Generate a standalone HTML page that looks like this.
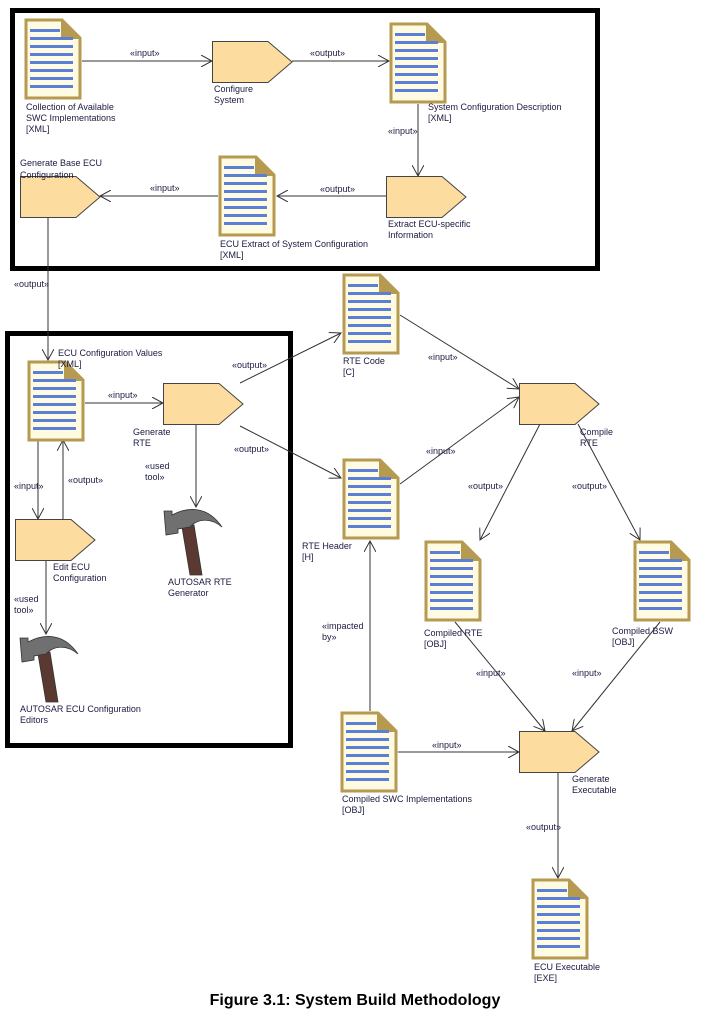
<!DOCTYPE html>
<html><head><meta charset="utf-8"><style>
body{margin:0;background:#fff;width:718px;height:1013px;overflow:hidden}
svg text{font-family:"Liberation Sans",sans-serif;font-size:9px;fill:#1a1a40}
.c{font-weight:bold;font-size:16px;fill:#000}
line,polyline{stroke:#333;stroke-width:1;fill:none}
</style></head><body>
<svg width="718" height="1013" viewBox="0 0 718 1013">
<defs>
<marker id="a" markerWidth="12" markerHeight="12" refX="11" refY="6" orient="auto" markerUnits="userSpaceOnUse">
<path d="M0,0 L11,6 L0,12" fill="none" stroke="#333" stroke-width="1"/></marker>
<symbol id="doc" viewBox="0 0 58 82" width="58" height="82">
<path d="M2,2 H38 L56,20 V80 H2 Z" fill="#fffbe3" stroke="#b59a50" stroke-width="3"/>
<path d="M37,2 V21 H56 Z" fill="#b59a50"/>
<g fill="#5b7fd6"><rect x="6" y="11" width="30" height="3"/><rect x="6" y="19" width="43" height="3"/><rect x="6" y="27" width="43" height="3"/><rect x="6" y="35" width="43" height="3"/><rect x="6" y="43" width="43" height="3"/><rect x="6" y="51" width="43" height="3"/><rect x="6" y="59" width="43" height="3"/><rect x="6" y="67" width="43" height="3"/></g>
</symbol>
<symbol id="proc" viewBox="0 0 81 42" width="81" height="42">
<path d="M0.5,0.5 H56 L80,21 L56,41.5 H0.5 Z" fill="#fddca0" stroke="#444" stroke-width="1"/>
</symbol>
<symbol id="ham" viewBox="0 0 62 72" width="62" height="72">
<path d="M20,22 L28,70 L40,70 L32,20 Z" fill="#5a3a30" stroke="#333" stroke-width="0.8"/>
<path d="M2,6 L10,6 L10,10 C25,2 45,0 60,22 C48,12 35,14 28,22 L16,24 L16,28 L4,30 Z" fill="#707070" stroke="#333" stroke-width="0.8"/>
</symbol>
</defs>
<rect x="12.5" y="10.5" width="585" height="258" fill="none" stroke="#000" stroke-width="5"/>
<rect x="7.5" y="333.5" width="283" height="412" fill="none" stroke="#000" stroke-width="5"/>

<line x1="82" y1="61" x2="212" y2="61" marker-end="url(#a)"/>
<line x1="292" y1="61" x2="389" y2="61" marker-end="url(#a)"/>
<line x1="418" y1="104" x2="418" y2="176" marker-end="url(#a)"/>
<line x1="386" y1="196" x2="277" y2="196" marker-end="url(#a)"/>
<line x1="218" y1="196" x2="100" y2="196" marker-end="url(#a)"/>
<line x1="48" y1="216" x2="48" y2="360" marker-end="url(#a)"/>
<line x1="85" y1="403" x2="163" y2="403" marker-end="url(#a)"/>
<line x1="196" y1="424" x2="196" y2="507" marker-end="url(#a)"/>
<line x1="38" y1="440" x2="38" y2="519" marker-end="url(#a)"/>
<line x1="63" y1="519" x2="63" y2="440" marker-end="url(#a)"/>
<line x1="46" y1="560" x2="46" y2="634" marker-end="url(#a)"/>
<line x1="240" y1="383" x2="341" y2="333" marker-end="url(#a)"/>
<line x1="240" y1="426" x2="341" y2="478" marker-end="url(#a)"/>
<line x1="400" y1="315" x2="519" y2="389" marker-end="url(#a)"/>
<line x1="400" y1="484" x2="519" y2="397" marker-end="url(#a)"/>
<line x1="540" y1="424" x2="480" y2="540" marker-end="url(#a)"/>
<line x1="578" y1="424" x2="640" y2="540" marker-end="url(#a)"/>
<line x1="370" y1="711" x2="370" y2="541" marker-end="url(#a)"/>
<line x1="398" y1="752" x2="519" y2="752" marker-end="url(#a)"/>
<line x1="455" y1="622" x2="545" y2="731" marker-end="url(#a)"/>
<line x1="660" y1="622" x2="572" y2="731" marker-end="url(#a)"/>
<line x1="558" y1="772" x2="558" y2="878" marker-end="url(#a)"/>

<use href="#doc" x="24" y="18"/>
<use href="#proc" x="212" y="41"/>
<use href="#doc" x="389" y="22"/>
<use href="#proc" x="386" y="176"/>
<use href="#doc" x="218" y="155"/>
<use href="#proc" x="20" y="176"/>
<use href="#doc" x="27" y="360"/>
<use href="#proc" x="163" y="383"/>
<use href="#proc" x="15" y="519"/>
<use href="#ham" x="162" y="505"/>
<use href="#ham" x="18" y="632"/>
<use href="#doc" x="342" y="273"/>
<use href="#doc" x="342" y="458"/>
<use href="#proc" x="519" y="383"/>
<use href="#doc" x="424" y="540"/>
<use href="#doc" x="633" y="540"/>
<use href="#doc" x="340" y="711"/>
<use href="#proc" x="519" y="731"/>
<use href="#doc" x="531" y="878"/>

<text x="26" y="110">Collection of Available</text><text x="26" y="121">SWC Implementations</text><text x="26" y="132">[XML]</text>
<text x="214" y="92">Configure</text><text x="214" y="103">System</text>
<text x="428" y="110">System Configuration Description</text><text x="428" y="121">[XML]</text>
<text x="130" y="56">«input»</text><text x="310" y="56">«output»</text>
<text x="388" y="134">«input»</text>
<text x="388" y="227">Extract ECU-specific</text><text x="388" y="238">Information</text>
<text x="220" y="247">ECU Extract of System Configuration</text><text x="220" y="258">[XML]</text>
<text x="320" y="192">«output»</text><text x="150" y="191">«input»</text>
<text x="20" y="166">Generate Base ECU</text><text x="20" y="178">Configuration</text>
<text x="14" y="287">«output»</text>
<text x="58" y="356">ECU Configuration Values</text><text x="58" y="367">[XML]</text>
<text x="108" y="398">«input»</text>
<text x="133" y="435">Generate</text><text x="133" y="446">RTE</text>
<text x="145" y="469">«used</text><text x="145" y="480">tool»</text>
<text x="168" y="585">AUTOSAR RTE</text><text x="168" y="596">Generator</text>
<text x="14" y="489">«input»</text><text x="68" y="483">«output»</text>
<text x="53" y="570">Edit ECU</text><text x="53" y="581">Configuration</text>
<text x="14" y="602">«used</text><text x="14" y="613">tool»</text>
<text x="20" y="712">AUTOSAR ECU Configuration</text><text x="20" y="723">Editors</text>
<text x="232" y="368">«output»</text><text x="234" y="452">«output»</text>
<text x="343" y="364">RTE Code</text><text x="343" y="375">[C]</text>
<text x="302" y="549">RTE Header</text><text x="302" y="560">[H]</text>
<text x="428" y="360">«input»</text><text x="426" y="454">«input»</text>
<text x="580" y="435">Compile</text><text x="580" y="446">RTE</text>
<text x="468" y="489">«output»</text><text x="572" y="489">«output»</text>
<text x="424" y="636">Compiled RTE</text><text x="424" y="647">[OBJ]</text>
<text x="612" y="634">Compiled BSW</text><text x="612" y="645">[OBJ]</text>
<text x="322" y="629">«impacted</text><text x="322" y="640">by»</text>
<text x="476" y="676">«input»</text><text x="572" y="676">«input»</text>
<text x="432" y="748">«input»</text>
<text x="342" y="802">Compiled SWC Implementations</text><text x="342" y="813">[OBJ]</text>
<text x="572" y="782">Generate</text><text x="572" y="793">Executable</text>
<text x="526" y="830">«output»</text>
<text x="534" y="970">ECU Executable</text><text x="534" y="981">[EXE]</text>
<text class="c" x="355" y="1005" text-anchor="middle">Figure 3.1: System Build Methodology</text>
</svg>
</body></html>
